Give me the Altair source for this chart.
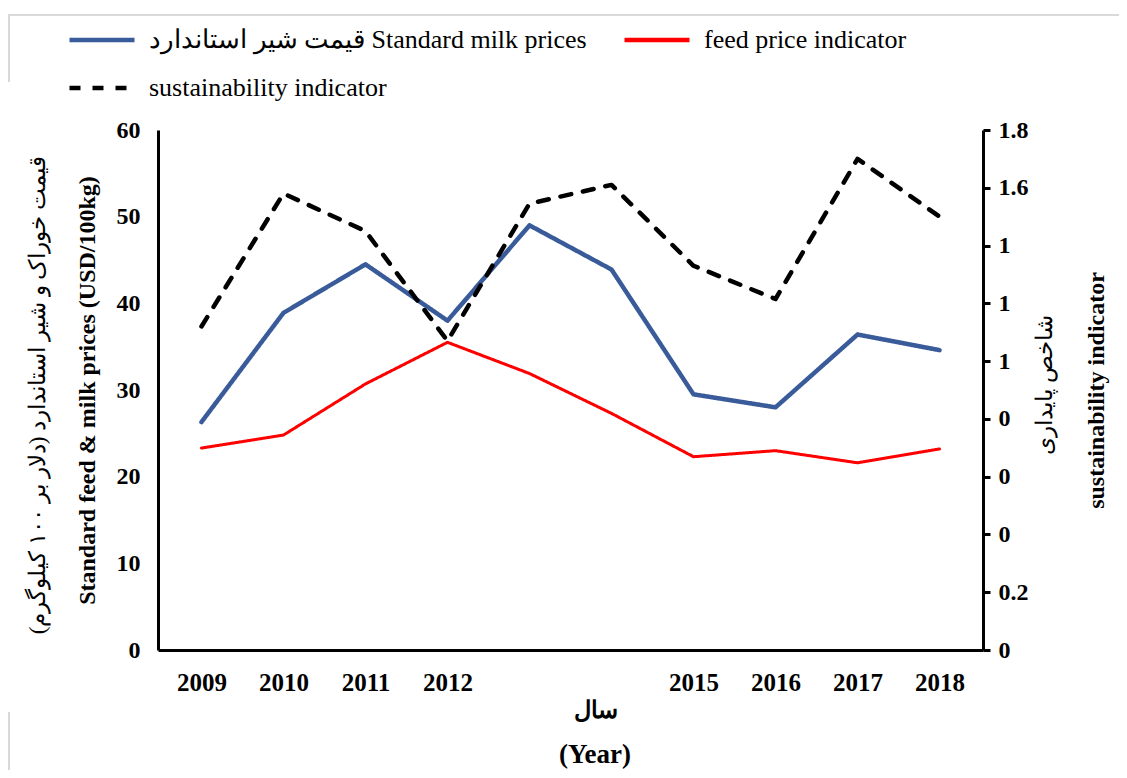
import json
import altair as alt
import pandas as pd

years = ["2009", "2010", "2011", "2012", "2013", "2014", "2015", "2016", "2017", "2018"]
milk = [26.3, 38.9, 44.5, 38.0, 49.0, 43.9, 29.5, 28.0, 36.4, 34.6]
feed = [23.3, 24.8, 30.7, 35.5, 31.9, 27.3, 22.3, 23.0, 21.6, 23.2]
sust = [1.12, 1.58, 1.45, 1.07, 1.545, 1.61, 1.33, 1.215, 1.70, 1.50]

s_milk = "قیمت شیر  استاندارد Standard milk prices"
s_feed = "feed price indicator"
s_sust = "sustainability indicator"
series_names = [s_milk, s_feed, s_sust]
series_colors = ["#3A5B9A", "#FF0000", "#000000"]
series_dash = [[1, 0], [1, 0], [11, 12]]

left_ticks = [0, 10, 20, 30, 40, 50, 60]
right_ticks = [0, 0.2, 0.4, 0.6, 0.8, 1.0, 1.2, 1.4, 1.6, 1.8]
right_tick_labels = ["0", "0.2", "0", "0", "0", "1", "1", "1", "1.6", "1.8"]
hidden_year_labels = ["2013", "2014"]

left_title_en = "Standard feed & milk prices (USD/100kg)"
left_title_fa = "(قیمت خوراک و شیر استاندارد (دلار بر ۱۰۰ کیلوگرم"
right_title_en = "sustainability indicator"
right_title_fa = "شاخص پایداری"
x_title_fa = "سال"
x_title_en = "(Year)"

rows = []
for name, vals in [(s_milk, milk), (s_feed, feed), (s_sust, sust)]:
    for y, v in zip(years, vals):
        rows.append({"year": y, "series": name, "value": v})
df = pd.DataFrame(rows)

FONT = "Liberation Serif"

x_enc = alt.X(
    "year:O",
    scale=alt.Scale(type="point", padding=0.53),
    axis=alt.Axis(
        labelAngle=0, ticks=False, domainWidth=3, domainColor="black",
        labelFont=FONT, labelFontWeight="bold", labelFontSize=25, labelColor="black",
        labelPadding=20,
        labelExpr=f"indexof({json.dumps(hidden_year_labels)}, datum.label) >= 0 ? '' : datum.label",
        title=x_title_fa, titleFont=FONT, titleFontWeight="bold", titleFontSize=24,
        titleColor="black", titlePadding=3, titleX=437,
    ),
)

legend = alt.Legend(
    title=None, orient="none", legendX=-91, legendY=-125, columns=2,
    direction="horizontal", columnPadding=21, rowPadding=0,
    symbolType="stroke", symbolSize=4225, symbolStrokeWidth=4.5,
    labelFont=FONT, labelFontSize=26, labelColor="black",
    labelLimit=0, labelOffset=12,
)
color_enc = alt.Color(
    "series:N", scale=alt.Scale(domain=series_names, range=series_colors), legend=legend
)
dash_enc = alt.StrokeDash(
    "series:N", scale=alt.Scale(domain=series_names, range=series_dash), legend=legend
)

base = alt.Chart(df)

left_axis = alt.Axis(
    orient="left", values=left_ticks, ticks=False, grid=False,
    domainWidth=3, domainColor="black",
    labelFont=FONT, labelFontWeight="bold", labelFontSize=24, labelColor="black",
    labelPadding=18,
    title=left_title_en, titleFont=FONT, titleFontWeight="bold", titleFontSize=24,
    titleColor="black", titlePadding=17,
)
y_left = alt.Y("value:Q", scale=alt.Scale(domain=[0, 60]), axis=left_axis)

milk_line = base.transform_filter(
    alt.FieldEqualPredicate(field="series", equal=s_milk)
).mark_line(strokeCap="round", strokeJoin="round", strokeWidth=4.5).encode(
    x=x_enc, y=y_left, color=color_enc, strokeDash=dash_enc
)
feed_line = base.transform_filter(
    alt.FieldEqualPredicate(field="series", equal=s_feed)
).mark_line(strokeCap="round", strokeJoin="round", strokeWidth=3).encode(
    x=x_enc, y=y_left, color=color_enc, strokeDash=dash_enc
)
left = alt.layer(milk_line, feed_line)

right = base.transform_filter(
    alt.FieldEqualPredicate(field="series", equal=s_sust)
).mark_line(strokeCap="round", strokeJoin="round", strokeWidth=4.5).encode(
    x=x_enc,
    y=alt.Y(
        "value:Q",
        scale=alt.Scale(domain=[0, 1.8]),
        axis=alt.Axis(
            orient="right", values=right_ticks, grid=False,
            ticks=True, tickSize=7, tickWidth=3, tickColor="black",
            domainWidth=3, domainColor="black",
            labelFont=FONT, labelFontWeight="bold", labelFontSize=24, labelColor="black",
            labelPadding=8,
            labelExpr=f"{json.dumps(right_tick_labels)}[round(datum.value * 5)]",
            title=right_title_en, titleFont=FONT, titleFontWeight="bold", titleFontSize=24,
            titleColor="black", titleAngle=270, titlePadding=80,
        ),
    ),
    color=color_enc, strokeDash=dash_enc,
)

ann = pd.DataFrame({"t": [left_title_fa, right_title_fa, x_title_en]})
left_fa = alt.Chart(ann).transform_filter(
    alt.FieldEqualPredicate(field="t", equal=left_title_fa)
).mark_text(font=FONT, fontSize=23, angle=270, color="black").encode(
    text="t:N", x=alt.value(-120), y=alt.value(265)
)
right_fa = alt.Chart(ann).transform_filter(
    alt.FieldEqualPredicate(field="t", equal=right_title_fa)
).mark_text(font=FONT, fontSize=23, angle=270, color="black").encode(
    text="t:N", x=alt.value(887), y=alt.value(255)
)
year_en = alt.Chart(ann).transform_filter(
    alt.FieldEqualPredicate(field="t", equal=x_title_en)
).mark_text(font=FONT, fontSize=27, fontWeight="bold", color="black").encode(
    text="t:N", x=alt.value(437), y=alt.value(625)
)

frame = pd.DataFrame({"k": [0]})
top_line = alt.Chart(frame).mark_rule(color="#d9d9d9", strokeWidth=2).encode(
    x=alt.value(-150), x2=alt.value(965), y=alt.value(-115)
)
left_line1 = alt.Chart(frame).mark_rule(color="#d9d9d9", strokeWidth=2).encode(
    x=alt.value(-149), y=alt.value(-115), y2=alt.value(-48)
)
left_line2 = alt.Chart(frame).mark_rule(color="#d9d9d9", strokeWidth=2).encode(
    x=alt.value(-149), y=alt.value(582), y2=alt.value(650)
)

chart = alt.layer(
    top_line, left_line1, left_line2, left, right, left_fa, right_fa, year_en
).resolve_scale(y="independent").properties(
    width=825, height=520,
    autosize=alt.AutoSizeParams(type="none"),
    padding={"left": 150, "top": 122, "right": 136, "bottom": 120},
).configure_view(stroke=None)

chart.save("out.html", embed_options={"renderer": "svg", "actions": False})
